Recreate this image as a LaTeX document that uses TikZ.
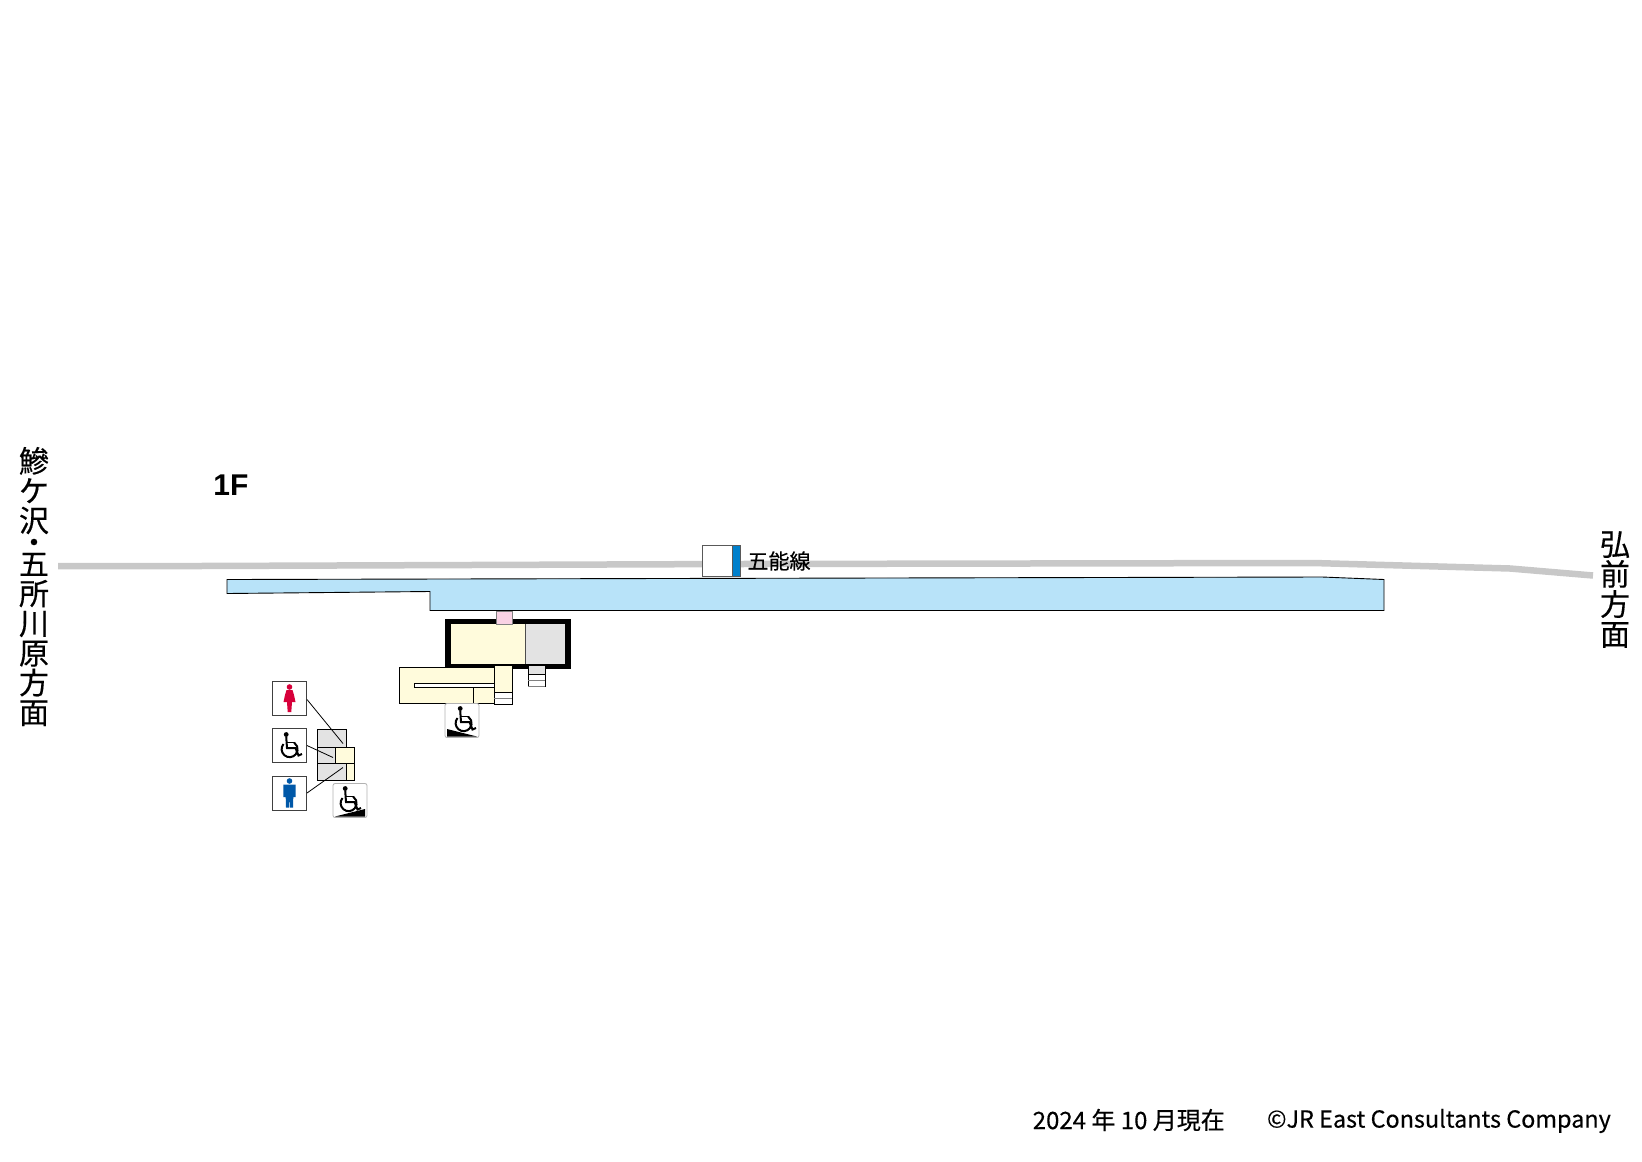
\documentclass[tikz,border=0pt]{standalone}
\usepackage{fontspec}
\usepackage{xcolor}
\usetikzlibrary{calc}
\setmainfont[FakeBold=0.35]{Noto Sans CJK JP}
\newfontfamily\latinbold{Liberation Sans}
\definecolor{mapgrey}{RGB}{200,200,200}
\definecolor{mapblue}{RGB}{184,227,249}
\definecolor{mapyellow}{RGB}{255,251,220}
\definecolor{mapshade}{RGB}{227,227,227}
\definecolor{mappink}{RGB}{249,210,228}
\definecolor{mapline}{RGB}{0,128,204}
\definecolor{mapred}{RGB}{215,0,58}
\definecolor{mapmale}{RGB}{0,88,168}
\tikzset{
  room/.style={draw=black,line width=0.9pt},
  iconbox/.style={draw=black!75,fill=white,line width=1pt,minimum size=34pt,inner sep=0pt},
  rampbox/.style={draw=black!30,fill=white,line width=0.8pt,rounded corners=2pt,minimum size=34pt,inner sep=0pt},
  leader/.style={draw=black,line width=0.8pt},
  wheelchair/.pic={
    \fill (-3.3,-11) circle (2.4);
    \draw[line width=2pt] (-3.3,-9) -- (-2.5,2.5) -- (6,2.5) -- (9,10) -- (12.5,8.5);
    \draw[line width=1.8pt] (-3,-3) -- (5,-3);
    \draw[line width=2pt] (-6,-1.5) arc[start angle=220,end angle=-55,radius=8];
  },
  ladyfig/.pic={
    \fill[mapred] (0,-11) circle (2.8);
    \fill[mapred] (-3,-8) -- (3,-8) -- (4.5,-3) -- (6,4) -- (2.5,4) -- (1.8,14) -- (-1.8,14) -- (-2.5,4) -- (-6,4) -- (-4.5,-3) -- cycle;
  },
  manfig/.pic={
    \fill[mapmale] (0,-12) circle (2.8);
    \fill[mapmale] (-6,-8.5) -- (6,-8.5) -- (6.2,4) -- (3.8,4) -- (3.5,14.5) -- (0.5,14.5) -- (0,4) -- (-0.5,14.5) -- (-3.5,14.5) -- (-3.8,4) -- (-6.2,4) -- cycle;
  },
  rampfig/.pic={
    \pic at (-1.5,-1) {wheelchair};
    \fill (-15,16) -- (15,16) -- (15,8.5) -- cycle;
  }
}
\begin{document}
\begin{tikzpicture}[x=1pt,y=-1pt]
\useasboundingbox (0,0) rectangle (1642,1162);
% Track
\draw[mapgrey,line width=6.5pt] (58,566) -- (200,566) -- (740,564) -- (1313,563) -- (1510,568.5) -- (1593,575.5);
% Station mark on the line
\node[draw=black!65,fill=white,line width=1pt,minimum width=38pt,minimum height=31pt,inner sep=0pt] (mark) at (721,561) {};
\fill[mapline] (732,546) rectangle (739.5,576);
\draw[black!65,line width=1pt] (732,545.5) -- (732,576.5);
\node[font=\fontsize{21}{21}\selectfont,inner sep=0pt] (linename) at (779,561) {五能線};
% Platform
\draw[fill=mapblue,draw=black,line width=0.9pt] (227,579.5) -- (1322,577) -- (1384,579.5) -- (1384,610.5) -- (430,610.5) -- (430,591.5) -- (227,593.5) -- cycle;
% Main building
\fill[mapyellow] (448,621.5) rectangle (525,666.5);
\fill[mapshade] (525,621.5) rectangle (568,666.5);
\draw[black!70,line width=0.9pt] (525,624) -- (525,664);
\draw[black,line width=5.5pt] (448,621.5) rectangle (568,666.5);
\draw[black!50,line width=0.6pt,fill=mappink] (496,611) rectangle (512,624);
% Annex and slope
\draw[room,fill=mapyellow] (399,667.5) rectangle (494,703.5);
\draw[room,fill=white] (414,683.5) rectangle (494,687.5);
\draw[room] (473,687.5) -- (473,703.5);
\draw[room,fill=mapyellow] (494,665.5) rectangle (512,692.5);
\draw[room,fill=white] (494,692.5) rectangle (512,704.5);
\draw[black!50,line width=0.8pt] (494,698.5) -- (512,698.5);
% Stairs
\draw[room,fill=mapshade] (528,665.5) rectangle (545,674.5);
\draw[room,fill=white] (528,674.5) -- (528,686.5) (545,674.5) -- (545,686.5) (528,674.5) -- (545,674.5);
\draw[black!50,line width=0.8pt] (528,680.5) -- (545,680.5) (528,686.5) -- (545,686.5);
% Toilet block
\draw[room,fill=mapshade] (317,729.5) rectangle (346,747.5);
\draw[room,fill=mapshade] (317,747.5) rectangle (335,763.5);
\draw[room,fill=mapyellow] (335,747.5) rectangle (354,763.5);
\draw[room,fill=mapshade] (317,763.5) rectangle (346,780.5);
\draw[room,fill=mapyellow] (346,763.5) rectangle (354,780.5);
% Icons
\node[iconbox] (ladies) at (289.5,698) {};
\node[iconbox] (access) at (289.5,745.5) {};
\node[iconbox] (gents) at (289.5,793) {};
\node[rampbox] (rampa) at (462,720.5) {};
\node[rampbox] (rampb) at (350,800.5) {};
\pic at (ladies) {ladyfig};
\pic at (access) {wheelchair};
\pic at (gents) {manfig};
\pic[xscale=-1] at (rampa) {rampfig};
\pic at (rampb) {rampfig};
% Leaders
\coordinate (ladiesend) at (343,743.5);
\coordinate (accessend) at (333,757.5);
\coordinate (gentsend) at (343,767.5);
\draw[leader] (ladies.east) ++(0,1.5) -- (ladiesend);
\draw[leader] (access.east) -- (accessend);
\draw[leader] (gents.east) -- (gentsend);
% Labels
\node[font=\latinbold\bfseries\fontsize{30}{30}\selectfont,inner sep=0pt] (floor) at (231,485) {1F};
\node[font=\fontsize{30}{29.7}\selectfont,align=center,inner sep=0pt] (westdir) at (34,586.5) {鰺\\ケ\\沢\\[-8pt]・\\[-8pt]五\\所\\川\\原\\方\\面};
\node[font=\fontsize{30}{30}\selectfont,align=center,inner sep=0pt] (eastdir) at (1615,589.5) {弘\\前\\方\\面};
\node[font=\fontsize{24}{24}\selectfont,inner sep=0pt,anchor=east] (dated) at (1225,1120) {2024 年 10 月現在};
\node[font=\fontsize{23.4}{24}\selectfont,inner sep=0pt,anchor=east] (credit) at (1611,1121) {©JR East Consultants Company};
\end{tikzpicture}
\end{document}
